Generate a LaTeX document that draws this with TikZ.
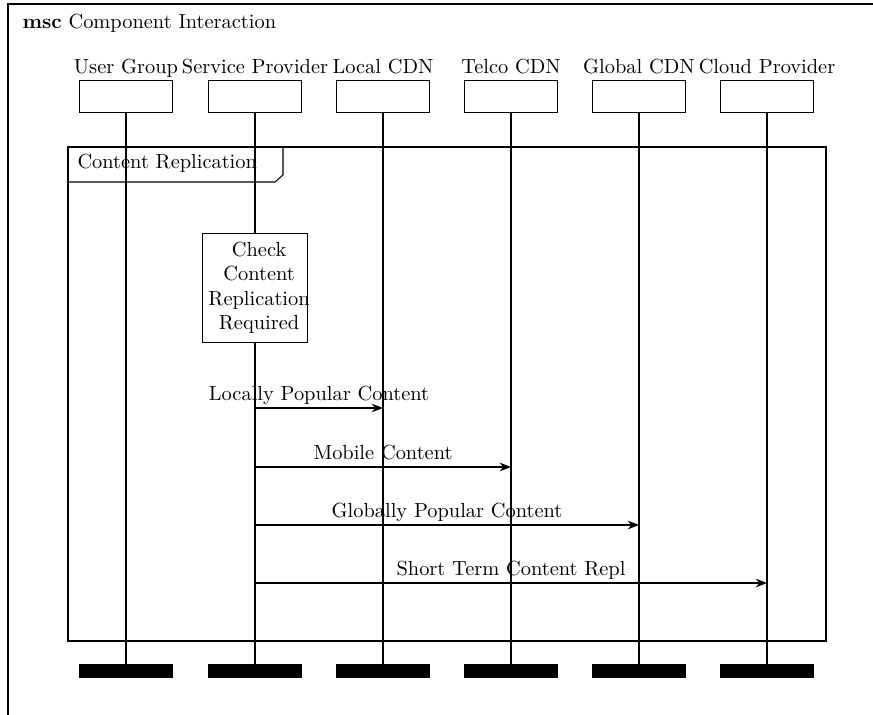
\documentclass[tikz,border=0pt]{standalone}
\usetikzlibrary{arrows.meta}
\begin{document}
\begin{tikzpicture}[x=0.49pt,y=-0.49pt, line width=0.5pt,
  inst/.style={draw, minimum width=46pt, minimum height=15.7pt, inner sep=0pt, anchor=north},
  instend/.style={draw, fill=black, minimum width=46pt, minimum height=6.4pt, inner sep=0pt, anchor=north},
  instname/.style={anchor=base, inner sep=0pt},
  msg/.style={-{Stealth[length=5.5pt,width=4.2pt,inset=1.8pt]}},
  msglabel/.style={pos=0.5, anchor=base, yshift=3.9pt, inner sep=0pt},
  actbox/.style={draw, fill=white, minimum width=51pt, minimum height=53pt, inner sep=0pt}
]
\clip (0,0) rectangle (873,714);
% outer msc frame
\draw (8,740) -- (8,4) -- (900,4);
\node[anchor=base west, inner sep=0pt] (title) at (22,28) {\textbf{msc} Component Interaction};

% instances
\foreach \n/\x/\t in {ug/126/User Group, sp/255/Service Provider, lc/383/Local CDN, tc/511/Telco CDN, gc/639/Global CDN, cp/767/Cloud Provider}{
  \node[instname] (\n l) at (\x,73) {\t};
  \node[inst] (\n) at (\x,80) {};
  \node[instend] (\n e) at (\x,664) {};
  \draw (\n.south) -- (\n e.north);
}

% inline frame
\draw (68,147) rectangle (826,641);
\draw (68,182) -- (275,182) -- (283,175) -- (283,147);
\node[anchor=base west, inner sep=0pt] (framelabel) at (77,168) {Content Replication};

% action
\node[actbox] (act) at (255,288) {};
\node[align=center, inner sep=0pt] (acttext) at ([xshift=2pt]act.center) {Check\\Content\\Replication\\Required};

% messages
\coordinate (s1) at (sp.south |- 0,408);
\coordinate (e1) at (lc.south |- 0,408);
\coordinate (s2) at (sp.south |- 0,467);
\coordinate (e2) at (tc.south |- 0,467);
\coordinate (s3) at (sp.south |- 0,525);
\coordinate (e3) at (gc.south |- 0,525);
\coordinate (s4) at (sp.south |- 0,583);
\coordinate (e4) at (cp.south |- 0,583);
\draw[msg] (s1) -- node[msglabel] {Locally Popular Content} (e1);
\draw[msg] (s2) -- node[msglabel] {Mobile Content} (e2);
\draw[msg] (s3) -- node[msglabel] {Globally Popular Content} (e3);
\draw[msg] (s4) -- node[msglabel] {Short Term Content Repl} (e4);
\end{tikzpicture}
\end{document}
